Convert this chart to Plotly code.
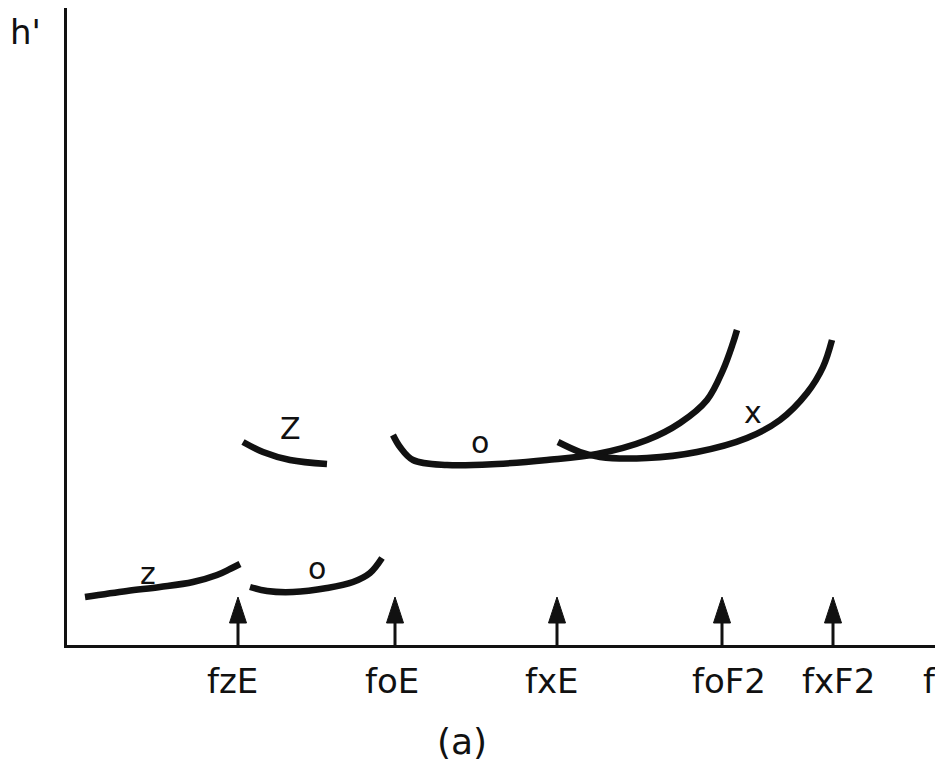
import plotly.graph_objects as go

# Schematic ionogram (arbitrary units): frequency f vs virtual height h'
z_low_f = [18, 60, 93, 126, 150, 163, 173]
z_low_h = [48, 54, 58, 63, 70, 76, 81]

o_low_f = [183, 200, 226, 260, 286, 303, 315]
o_low_h = [58, 54, 53, 57, 63, 72, 87]

z_up_f = [176, 196, 223, 260]
z_up_h = [203, 193, 185, 181]

o_up_f = [326, 333, 346, 380, 430, 480, 530, 580, 613, 640, 656, 666, 670]
o_up_h = [210, 198, 185, 180, 181, 185, 191, 205, 222, 245, 275, 302, 315]

x_up_f = [491, 513, 533, 580, 630, 680, 713, 740, 756, 765]
x_up_h = [203, 193, 188, 187, 193, 207, 225, 252, 278, 305]

crit_names = ["fzE", "foE", "fxE", "foF2", "fxF2"]
crit_f = [171, 328, 490, 655, 766]
crit_label_f = [165, 325, 485, 662, 771]

trace_labels = ["z", "o", "Z", "o", "x"]
trace_label_f = [81, 250, 223, 413, 686]
trace_label_h = [72, 77, 217, 203, 233]

F_MAX = 875
H_MAX = 637

FONT = "DejaVu Sans"
BLACK = "#111111"

fig = go.Figure()

for fx, hy in [(z_low_f, z_low_h), (o_low_f, o_low_h), (z_up_f, z_up_h),
               (o_up_f, o_up_h), (x_up_f, x_up_h)]:
    fig.add_trace(go.Scatter(x=fx, y=hy, mode="lines",
                             line=dict(color=BLACK, width=6.5, shape="spline", smoothing=1.0),
                             hoverinfo="skip", showlegend=False))

# arrows marking critical frequencies
head_tip, head_base, half_w = 48, 22, 8.5
for fc in crit_f:
    fig.add_trace(go.Scatter(x=[fc, fc], y=[0, head_base + 2], mode="lines",
                             line=dict(color=BLACK, width=3),
                             hoverinfo="skip", showlegend=False))
    fig.add_trace(go.Scatter(x=[fc - half_w, fc, fc + half_w, fc - half_w],
                             y=[head_base, head_tip, head_base, head_base],
                             mode="lines", fill="toself", fillcolor=BLACK,
                             line=dict(color=BLACK, width=1),
                             hoverinfo="skip", showlegend=False))


def py(h):
    return h / H_MAX


def px(f):
    return f / F_MAX


def note(x, y, text, size, ref="paper"):
    return dict(x=x, y=y, xref=ref, yref=ref, text=text, showarrow=False,
                xanchor="center", yanchor="middle",
                font=dict(family=FONT, size=size, color=BLACK))


annotations = []
for name, lf in zip(crit_names, crit_label_f):
    annotations.append(note(px(lf), py(-36), name, 34))
for t, lf, lh in zip(trace_labels, trace_label_f, trace_label_h):
    annotations.append(note(lf, lh, t, 30, ref="x") | dict(xref="x", yref="y"))
annotations.append(note(px(862), py(-36), "f", 34))
annotations.append(note(px(-42), py(613), "h'", 34))
annotations.append(note(px(395), py(-96), "(a)", 36))

fig.update_layout(
    width=934, height=758,
    margin=dict(l=59, r=0, t=0, b=121),
    paper_bgcolor="white", plot_bgcolor="white",
    xaxis=dict(range=[0, F_MAX], showgrid=False, zeroline=False, showticklabels=False,
               ticks="", showline=True, linecolor=BLACK, linewidth=3),
    yaxis=dict(range=[0, H_MAX], showgrid=False, zeroline=False, showticklabels=False,
               ticks="", showline=True, linecolor=BLACK, linewidth=3),
    annotations=annotations,
)

fig.write_html("out.html")
